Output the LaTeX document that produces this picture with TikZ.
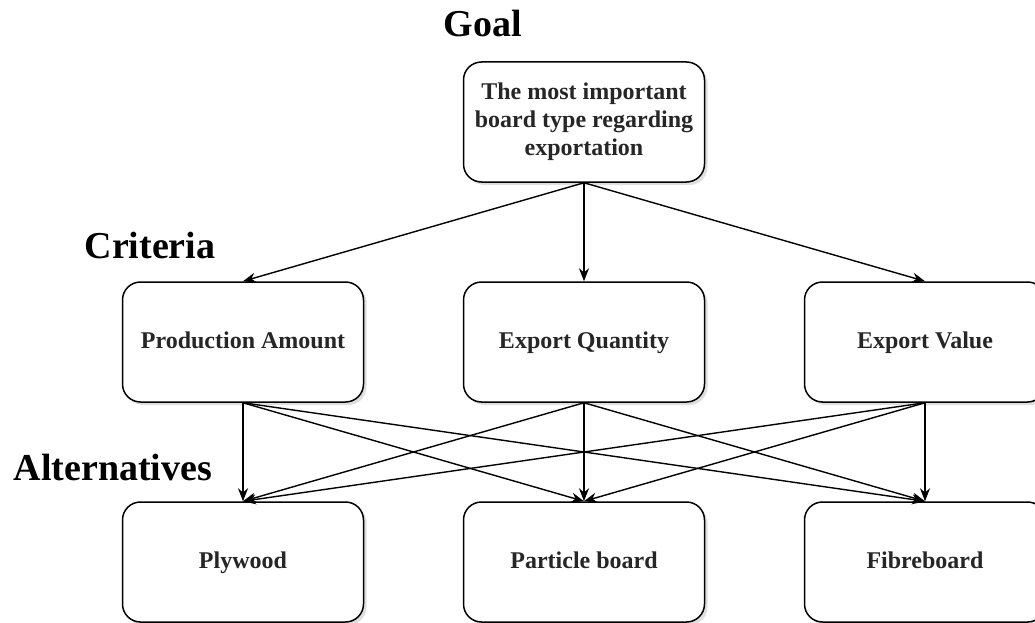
\documentclass[tikz,border=0pt]{standalone}
\usepackage{fontspec}
\setmainfont{Liberation Serif}
\usetikzlibrary{arrows.meta,shadows}
\begin{document}
\begin{tikzpicture}[x=1pt,y=-1pt,
 box/.style={draw=black, line width=1.5pt, rounded corners=18pt, fill=white,
   minimum width=241pt, minimum height=120pt, align=center, text=black!85,
   font=\fontsize{24}{28}\selectfont\bfseries,
   drop shadow={opacity=0.25, shadow xshift=3pt, shadow yshift=-3pt}},
 onebox/.style={box, text height=17pt, text depth=5pt},
 lvl/.style={font=\fontsize{38}{44}\selectfont\bfseries, text=black},
 conn/.style={line width=1.4pt, draw=black, -{Stealth[length=13pt,width=10pt]}}]
\clip (0,0) rectangle (1035,623);
\fill[white] (0,0) rectangle (1035,623);
\node[box] (goal) at (584,122) {The most important\\board type regarding\\exportation};
\node[onebox] (pa) at (243,342) {Production Amount};
\node[onebox] (eq) at (584,342) {Export Quantity};
\node[onebox] (ev) at (925,342) {Export Value};
\node[onebox] (ply) at (243,562) {Plywood};
\node[onebox] (pb) at (584,562) {Particle board};
\node[onebox] (fb) at (925,562) {Fibreboard};
\node[lvl] (lgoal) at (483,24) {Goal};
\node[lvl] (lcrit) at (150,246) {Criteria};
\node[lvl] (lalt) at (113,467) {Alternatives};
\foreach \t in {pa,eq,ev}{\draw[conn] (goal.south) -- (\t.north);}
\foreach \s in {pa,eq,ev}{\foreach \t in {ply,pb,fb}{\draw[conn] (\s.south) -- (\t.north);}}
\end{tikzpicture}
\end{document}
